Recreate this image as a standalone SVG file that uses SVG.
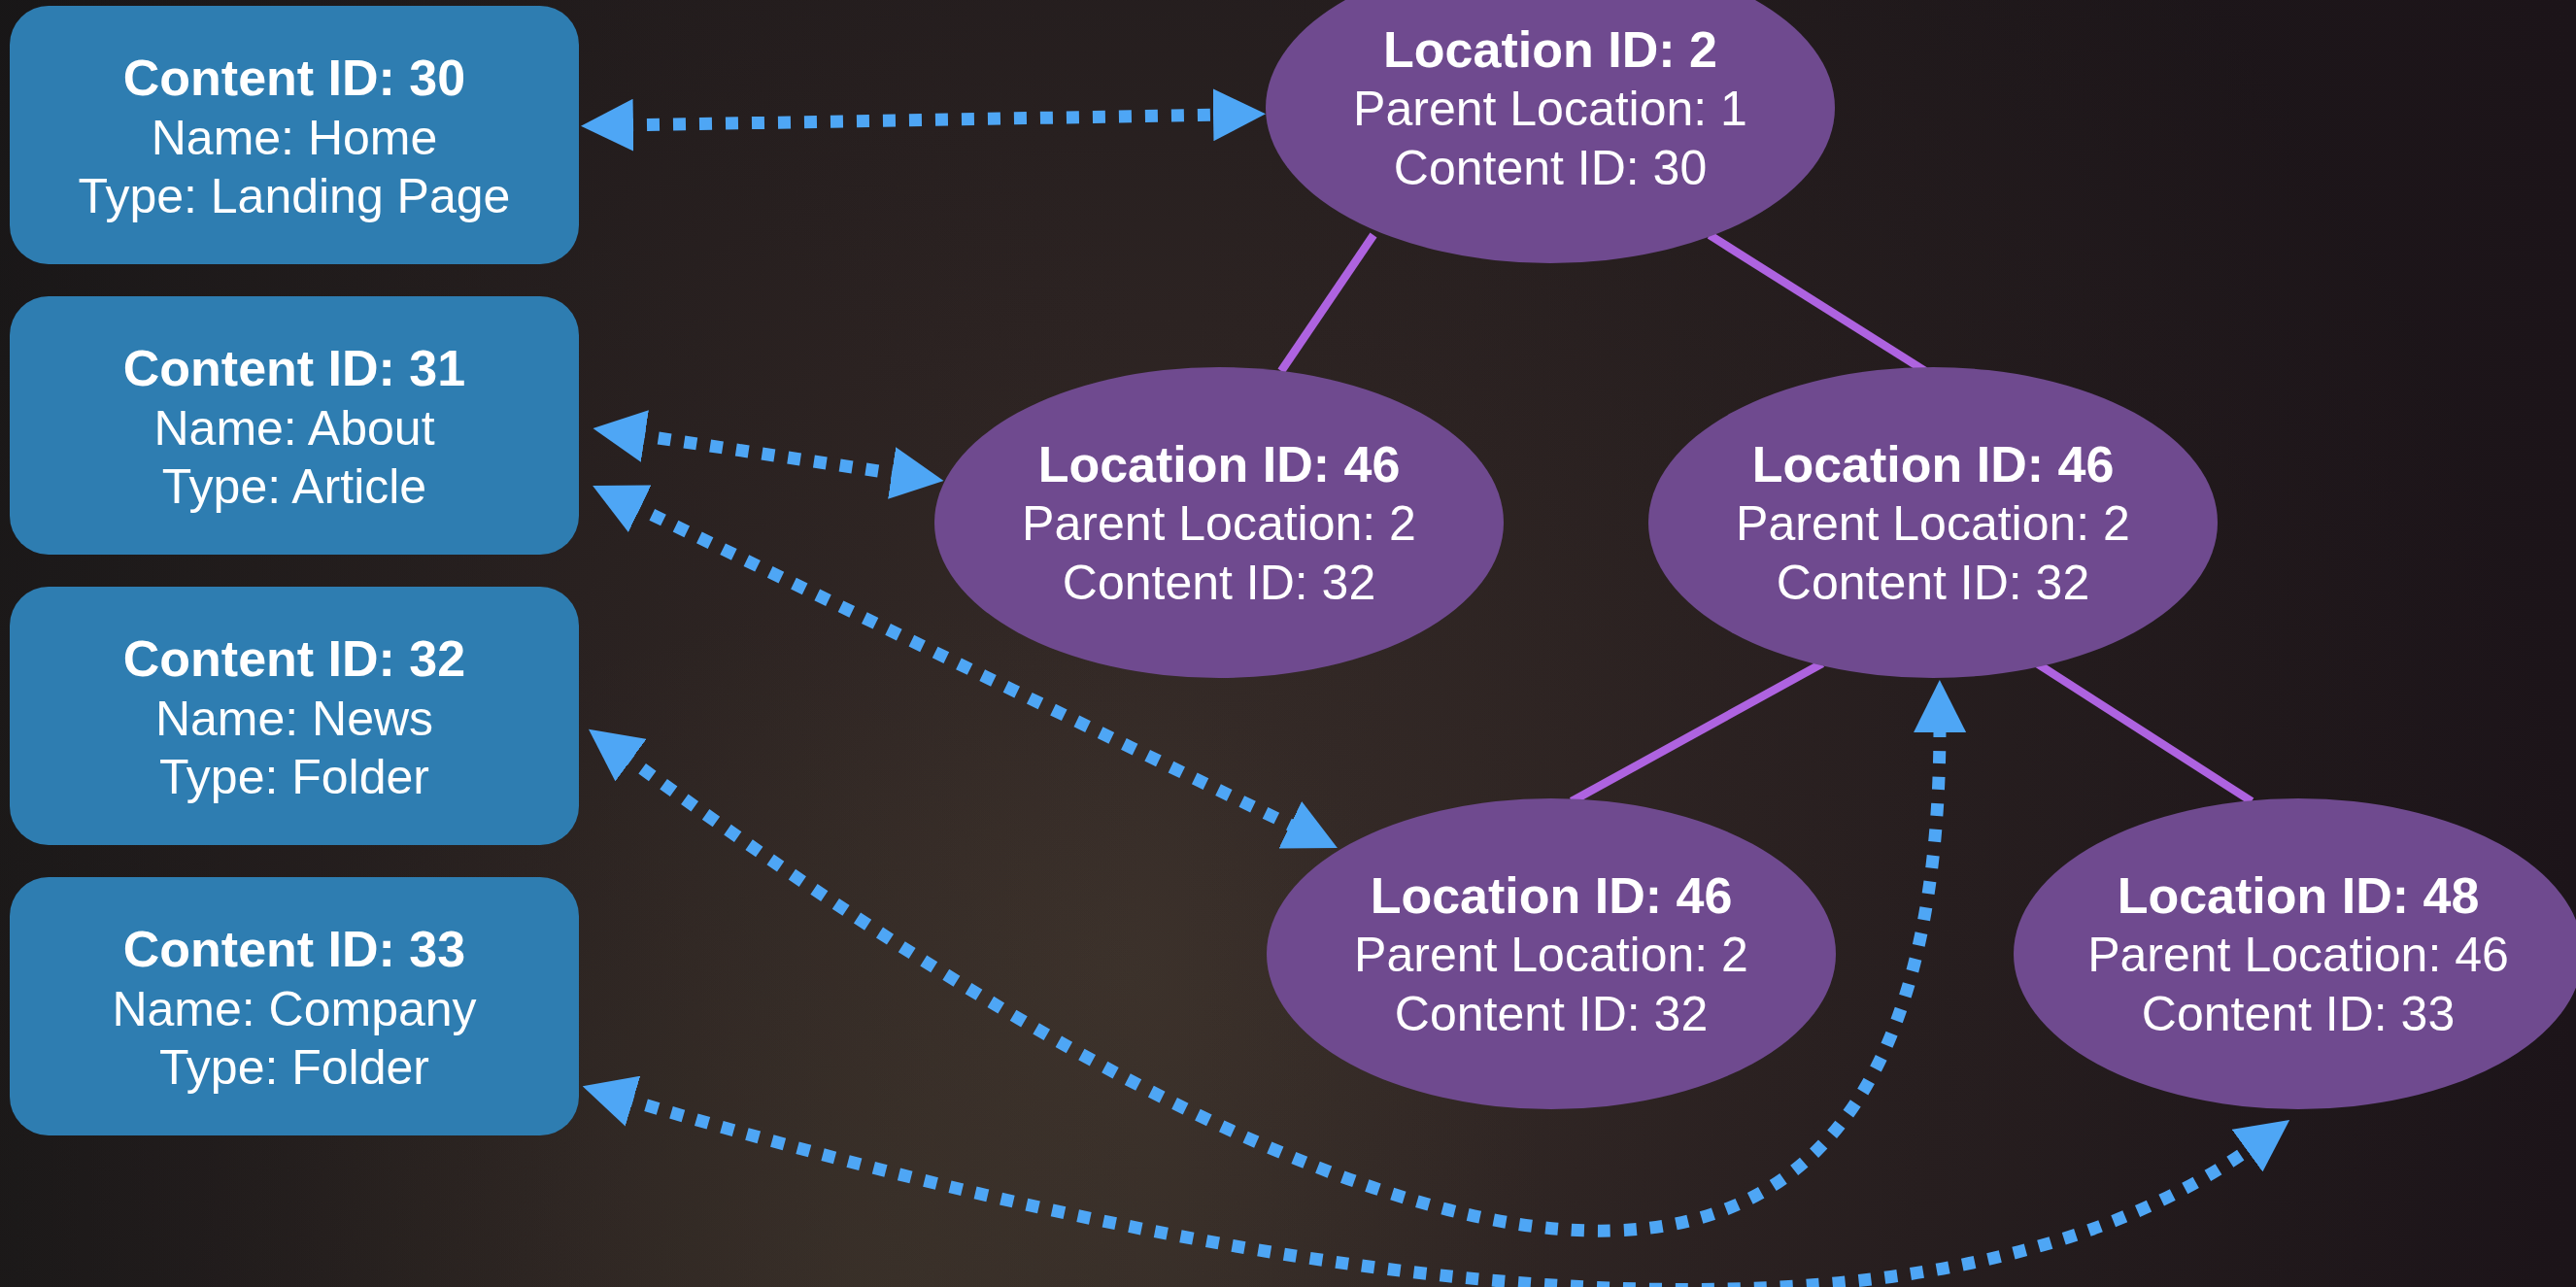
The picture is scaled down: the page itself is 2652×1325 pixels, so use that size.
<svg xmlns="http://www.w3.org/2000/svg" width="2652" height="1325" viewBox="0 0 2652 1325">
  <defs>
    <radialGradient id="bgGlow" cx="1150" cy="1000" r="1500" gradientUnits="userSpaceOnUse">
      <stop offset="0" stop-color="#3a2f2a"/>
      <stop offset="0.45" stop-color="#2c2322"/>
      <stop offset="1" stop-color="#1a1619"/>
    </radialGradient>
    <radialGradient id="bgLow" cx="900" cy="1325" r="700" gradientUnits="userSpaceOnUse">
      <stop offset="0" stop-color="#433a2e" stop-opacity="0.6"/>
      <stop offset="1" stop-color="#433a2e" stop-opacity="0"/>
    </radialGradient>
    <linearGradient id="bgTint" x1="0" y1="0" x2="2652" y2="0" gradientUnits="userSpaceOnUse">
      <stop offset="0" stop-color="#171716" stop-opacity="0.55"/>
      <stop offset="0.45" stop-color="#2a1f1f" stop-opacity="0"/>
      <stop offset="1" stop-color="#1e1219" stop-opacity="0.5"/>
    </linearGradient>
    <marker id="arrow" viewBox="0 -27 54 54" refX="13" refY="0" markerWidth="54" markerHeight="54" markerUnits="userSpaceOnUse" orient="auto-start-reverse">
      <path d="M0,-27 L54,0 L0,27 Z" fill="#4ea6f5"/>
    </marker>
  </defs>
  <style>
    .box { fill: #2e7db1; }
    .loc { fill: #6f4a8f; }
    .t { font-family: "Liberation Sans", Arial, Helvetica, sans-serif; fill: #ffffff; text-anchor: middle; }
    .b { font-weight: bold; font-size: 52px; }
    .r { font-weight: normal; font-size: 50px; }
    .tree { stroke: #ae63e0; stroke-width: 8.5; fill: none; stroke-linecap: butt; }
    .link { stroke: #4ea6f5; stroke-width: 13; fill: none; stroke-dasharray: 13 14; marker-start: url(#arrow); marker-end: url(#arrow); }
  </style>

  <rect x="0" y="0" width="2652" height="1325" fill="url(#bgGlow)"/>
  <rect x="0" y="0" width="2652" height="1325" fill="url(#bgLow)"/>
  <rect x="0" y="0" width="2652" height="1325" fill="url(#bgTint)"/>

  <g id="tree-lines">
    <line class="tree" x1="1414" y1="242" x2="1319" y2="382"/>
    <line class="tree" x1="1760" y1="242" x2="1982" y2="382"/>
    <line class="tree" x1="1876" y1="683" x2="1618" y2="825"/>
    <line class="tree" x1="2097" y1="683" x2="2318" y2="825"/>
  </g>

  <g id="content-30">
    <rect class="box" x="10" y="6" width="586" height="266" rx="40" ry="40"/>
    <text class="t b" x="303" y="98">Content ID: 30</text>
    <text class="t r" x="303" y="159">Name: Home</text>
    <text class="t r" x="303" y="219">Type: Landing Page</text>
  </g>
  <g id="content-31">
    <rect class="box" x="10" y="305" width="586" height="266" rx="40" ry="40"/>
    <text class="t b" x="303" y="397">Content ID: 31</text>
    <text class="t r" x="303" y="458">Name: About</text>
    <text class="t r" x="303" y="518">Type: Article</text>
  </g>
  <g id="content-32">
    <rect class="box" x="10" y="604" width="586" height="266" rx="40" ry="40"/>
    <text class="t b" x="303" y="696">Content ID: 32</text>
    <text class="t r" x="303" y="757">Name: News</text>
    <text class="t r" x="303" y="817">Type: Folder</text>
  </g>
  <g id="content-33">
    <rect class="box" x="10" y="903" width="586" height="266" rx="40" ry="40"/>
    <text class="t b" x="303" y="995">Content ID: 33</text>
    <text class="t r" x="303" y="1056">Name: Company</text>
    <text class="t r" x="303" y="1116">Type: Folder</text>
  </g>

  <g id="location-2">
    <ellipse class="loc" cx="1596" cy="111" rx="293" ry="160"/>
    <text class="t b" x="1596" y="69">Location ID: 2</text>
    <text class="t r" x="1596" y="129">Parent Location: 1</text>
    <text class="t r" x="1596" y="190">Content ID: 30</text>
  </g>
  <g id="location-46-a">
    <ellipse class="loc" cx="1255" cy="538" rx="293" ry="160"/>
    <text class="t b" x="1255" y="496">Location ID: 46</text>
    <text class="t r" x="1255" y="556">Parent Location: 2</text>
    <text class="t r" x="1255" y="617">Content ID: 32</text>
  </g>
  <g id="location-46-b">
    <ellipse class="loc" cx="1990" cy="538" rx="293" ry="160"/>
    <text class="t b" x="1990" y="496">Location ID: 46</text>
    <text class="t r" x="1990" y="556">Parent Location: 2</text>
    <text class="t r" x="1990" y="617">Content ID: 32</text>
  </g>
  <g id="location-46-c">
    <ellipse class="loc" cx="1597" cy="982" rx="293" ry="160"/>
    <text class="t b" x="1597" y="940">Location ID: 46</text>
    <text class="t r" x="1597" y="1000">Parent Location: 2</text>
    <text class="t r" x="1597" y="1061">Content ID: 32</text>
  </g>
  <g id="location-48">
    <ellipse class="loc" cx="2366" cy="982" rx="293" ry="160"/>
    <text class="t b" x="2366" y="940">Location ID: 48</text>
    <text class="t r" x="2366" y="1000">Parent Location: 46</text>
    <text class="t r" x="2366" y="1061">Content ID: 33</text>
  </g>

  <g id="connectors">
    <path class="link" d="M639,129 L1262,118"/>
    <path class="link" d="M651,447 L931,489"/>
    <path class="link" d="M647,518 L1340,855"/>
    <path class="link" d="M639,775 Q2000,1776 1997,741"/>
    <path class="link" d="M639,1130 Q1880,1500 2324,1177"/>
  </g>
</svg>
